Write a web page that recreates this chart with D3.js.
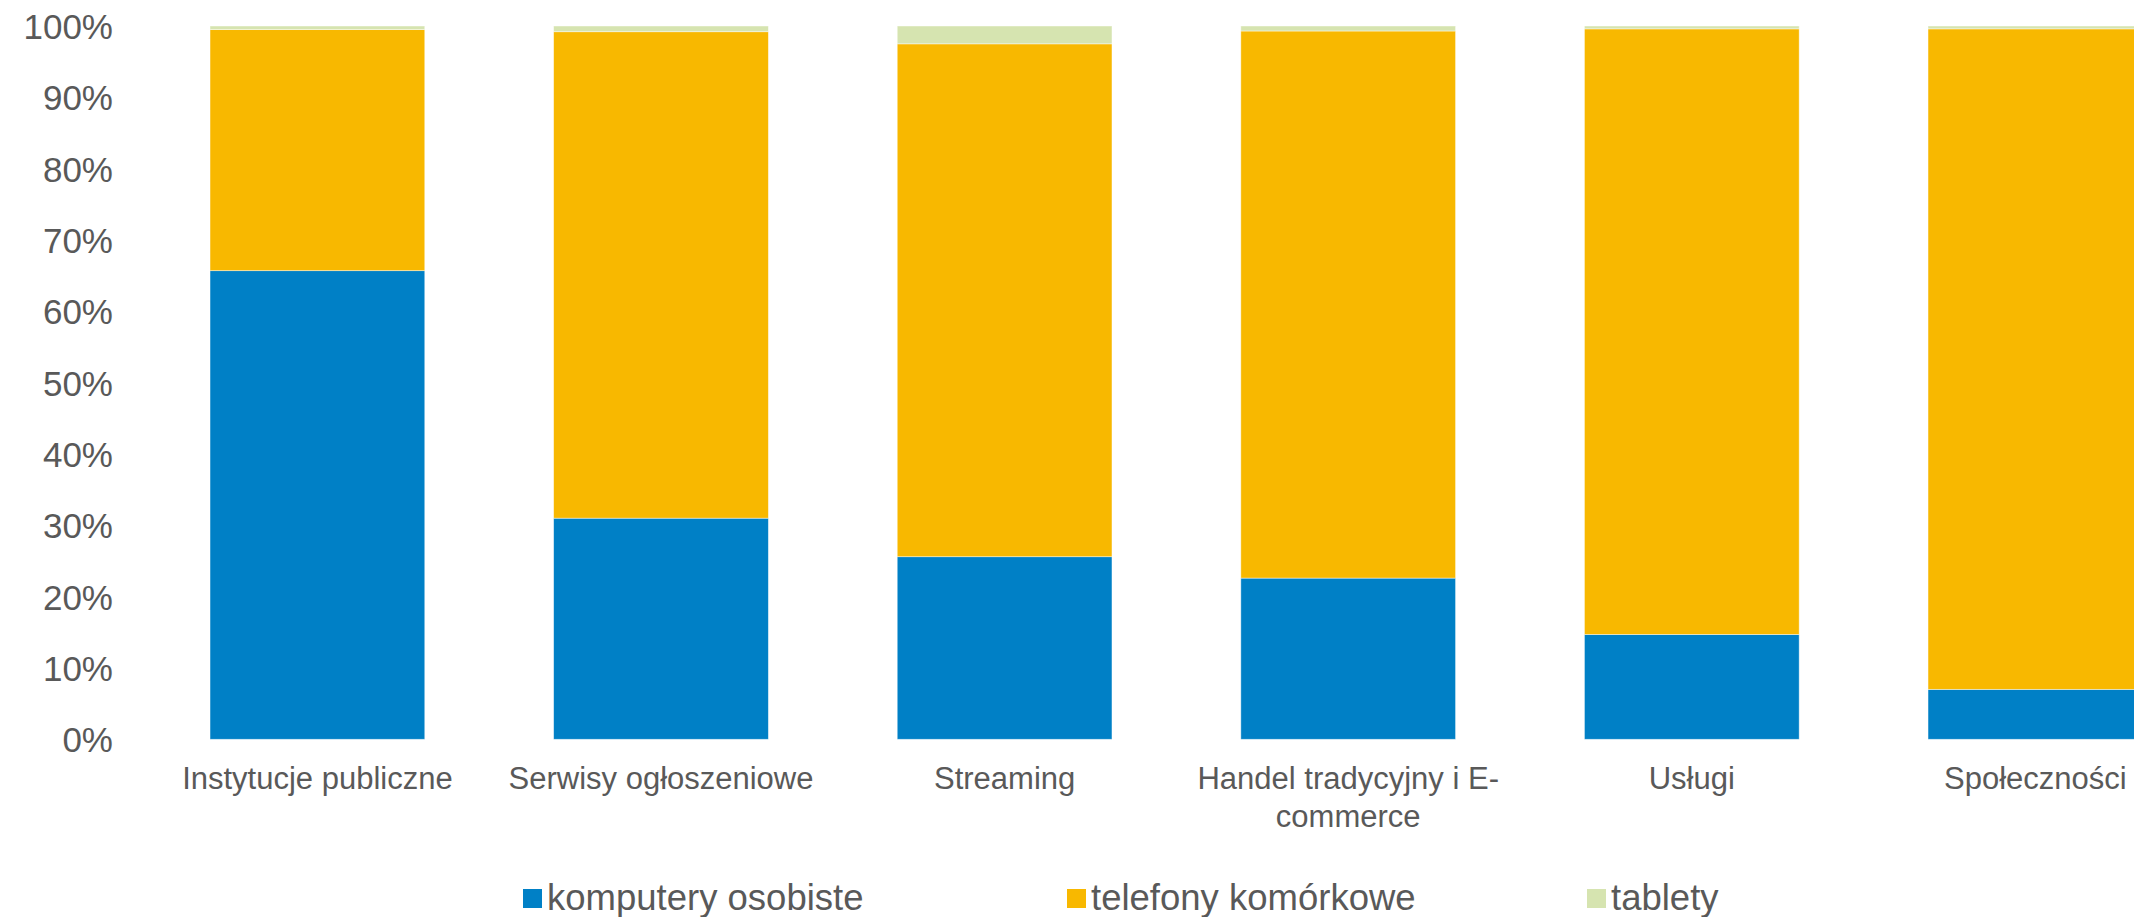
<!DOCTYPE html>
<html>
<head>
<meta charset="utf-8">
<script src="https://cdn.jsdelivr.net/npm/d3@7"></script>
<style>
  html, body { margin: 0; padding: 0; background: #fff; overflow: hidden; }
  svg { display: block; }
  text { font-family: "Liberation Sans", Arial, sans-serif; fill: #595959; }
</style>
</head>
<body>
<svg id="chart" width="2134" height="917"></svg>
<script>
// Share of traffic by device type, per sector
const categories = [
  "Instytucje publiczne",
  "Serwisy ogłoszeniowe",
  "Streaming",
  "Handel tradycyjny i E-commerce",
  "Usługi",
  "Społeczności"
];
const seriesNames = ["komputery osobiste", "telefony komórkowe", "tablety"];
const komputery = [65.7, 31.0, 25.6, 22.6, 14.7, 7.0];
const telefony  = [33.8, 68.2, 71.9, 76.7, 84.9, 92.6];
const tablety   = [0.5, 0.8, 2.5, 0.7, 0.4, 0.4];
const yTicks = [0, 10, 20, 30, 40, 50, 60, 70, 80, 90, 100];
const colors = ["#0080C6", "#F8B800", "#D6E4B0"];

const svg = d3.select("#chart");

// Plot area (right side extends past the visible canvas)
const plotLeft = 145.6, plotRight = 2207.2, plotTop = 26, plotBottom = 739.3;

const rows = categories.map((c, i) => ({
  cat: c,
  [seriesNames[0]]: komputery[i],
  [seriesNames[1]]: telefony[i],
  [seriesNames[2]]: tablety[i]
}));

const x = d3.scaleBand()
  .domain(categories)
  .range([plotLeft, plotRight])
  .paddingInner(0.375)
  .paddingOuter(0.1875);

const y = d3.scaleLinear()
  .domain([0, 100])
  .range([plotBottom, plotTop]);

const color = d3.scaleOrdinal().domain(seriesNames).range(colors);

const stacked = d3.stack().keys(seriesNames)(rows);

// Stacked bars
svg.append("g")
  .selectAll("g")
  .data(stacked)
  .join("g")
    .attr("fill", d => color(d.key))
  .selectAll("rect")
  .data(d => d)
  .join("rect")
    .attr("x", d => x(d.data.cat))
    .attr("width", x.bandwidth())
    .attr("y", d => y(d[1]))
    .attr("height", d => y(d[0]) - y(d[1]))
    .attr("stroke", "#ffffff")
    .attr("stroke-opacity", 0.55)
    .attr("stroke-width", 0.8);

// Y axis labels (no axis line or gridlines)
const yAxis = svg.append("g")
  .attr("transform", "translate(113,0)")
  .call(d3.axisLeft(y).tickValues(yTicks).tickFormat(d => d + "%").tickSize(0).tickPadding(0));
yAxis.select(".domain").remove();
yAxis.selectAll("text")
  .attr("font-size", 35)
  .attr("font-family", "Liberation Sans, Arial, sans-serif")
  .attr("fill", "#595959")
  .attr("dy", "0.36em");

// Category labels, wrapped to the band step
const xAxis = svg.append("g")
  .attr("transform", `translate(0,${plotBottom})`)
  .call(d3.axisBottom(x).tickSize(0).tickPadding(0));
xAxis.select(".domain").remove();
xAxis.selectAll("text")
  .attr("font-size", 31)
  .attr("font-family", "Liberation Sans, Arial, sans-serif")
  .attr("fill", "#595959")
  .attr("y", 50)
  .attr("dy", 0)
  .each(function(d) { wrap(d3.select(this), x.step()); });

function wrap(textSel, width) {
  const full = textSel.text();
  const tokens = full.match(/[^\s-]+-?|\s+/g).filter(t => t.trim().length);
  // keep track of whether each token followed a space
  const parts = [];
  let idx = 0;
  tokens.forEach(t => {
    const pos = full.indexOf(t, idx);
    const spaced = pos > 0 && full[pos - 1] === " ";
    parts.push({ t, spaced });
    idx = pos + t.length;
  });
  textSel.text(null);
  const xPos = textSel.attr("x") || 0;
  let tspan = textSel.append("tspan").attr("x", xPos).attr("dy", 0);
  let line = "";
  parts.forEach(p => {
    const candidate = line ? line + (p.spaced ? " " : "") + p.t : p.t;
    tspan.text(candidate);
    if (tspan.node().getComputedTextLength() > width && line) {
      tspan.text(line);
      tspan = textSel.append("tspan").attr("x", xPos).attr("dy", 38);
      line = p.t;
      tspan.text(line);
    } else {
      line = candidate;
    }
  });
}

// Legend
const legendX = [523, 1067, 1587];
const legend = svg.append("g");
seriesNames.forEach((name, i) => {
  const g = legend.append("g").attr("transform", `translate(${legendX[i]},889)`);
  g.append("rect")
    .attr("width", 19)
    .attr("height", 19)
    .attr("fill", color(name));
  g.append("text")
    .attr("x", 24)
    .attr("y", 21)
    .attr("font-size", 36.5)
    .text(name);
});
</script>
</body>
</html>
